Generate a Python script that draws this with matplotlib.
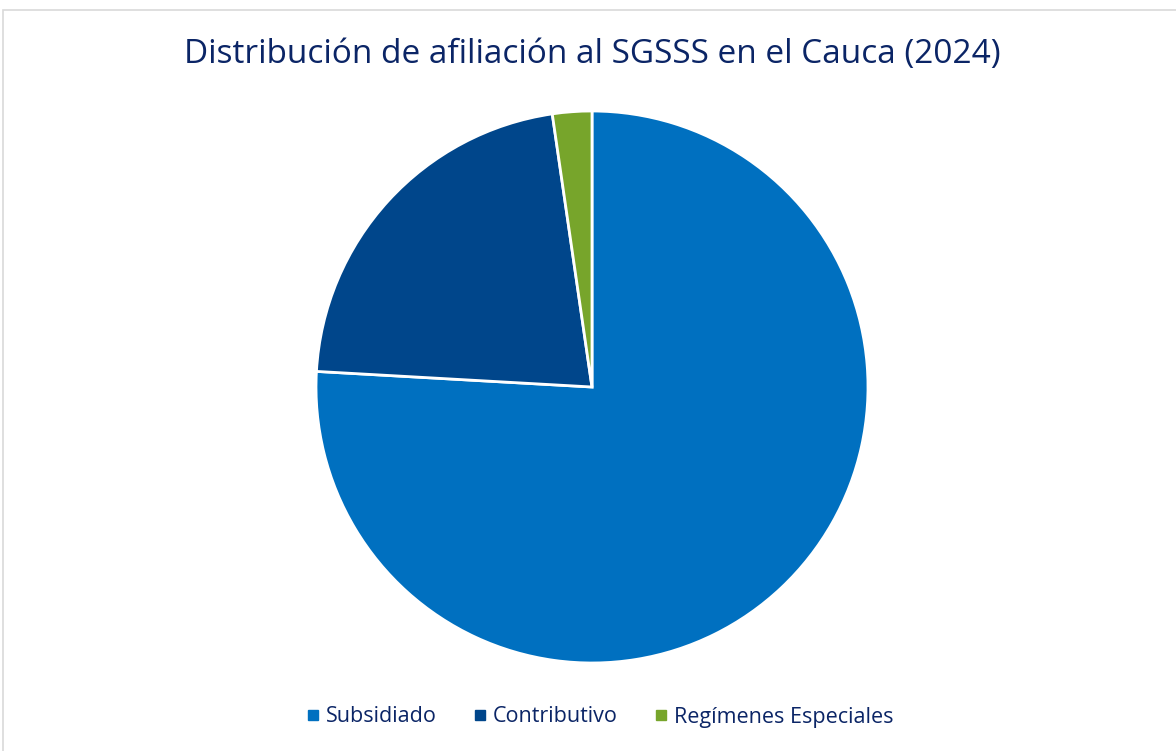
import matplotlib.pyplot as plt
from matplotlib.lines import Line2D
from matplotlib.patches import Rectangle

labels = ['Subsidiado', 'Contributivo', 'Regímenes Especiales']
shares = [75.9, 21.8, 2.3]
colors = ['#0070C0', '#00468B', '#77A52B']
title = 'Distribución de afiliación al SGSSS en el Cauca (2024)'

plt.rcParams['font.family'] = ['Open Sans', 'DejaVu Sans']

W, H = 1176, 751
fig = plt.figure(figsize=(W / 100, H / 100), dpi=100)

# light frame
fig.patches.append(Rectangle((3 / W, -0.01), 1.1, (H - 10) / H + 0.01,
                             transform=fig.transFigure, fill=False,
                             edgecolor='#d9d9d9', linewidth=1.2))

cx, cy, r = 592, 387, 276
ax = fig.add_axes([(cx - r) / W, (H - cy - r) / H, 2 * r / W, 2 * r / H])
ax.pie(shares, colors=colors, startangle=90, counterclock=False,
       wedgeprops=dict(edgecolor='white', linewidth=2))
ax.set_xlim(-1, 1)
ax.set_ylim(-1, 1)
ax.set_aspect('equal')

fig.text(592 / W, 1 - 55 / H, title, ha='center', va='center',
         fontsize=24, color='#0B2566')

handles = [Line2D([], [], marker='s', linestyle='none', markersize=7,
                  markerfacecolor=c, markeredgecolor=c) for c in colors]
fig.legend(handles, labels, loc='center', bbox_to_anchor=(599 / W, 1 - 717 / H),
           ncol=3, frameon=False, fontsize=15.5, labelcolor='#0B2566',
           handletextpad=0.2, columnspacing=1.6, handlelength=0.8)

fig.savefig('out.png', dpi=100)
